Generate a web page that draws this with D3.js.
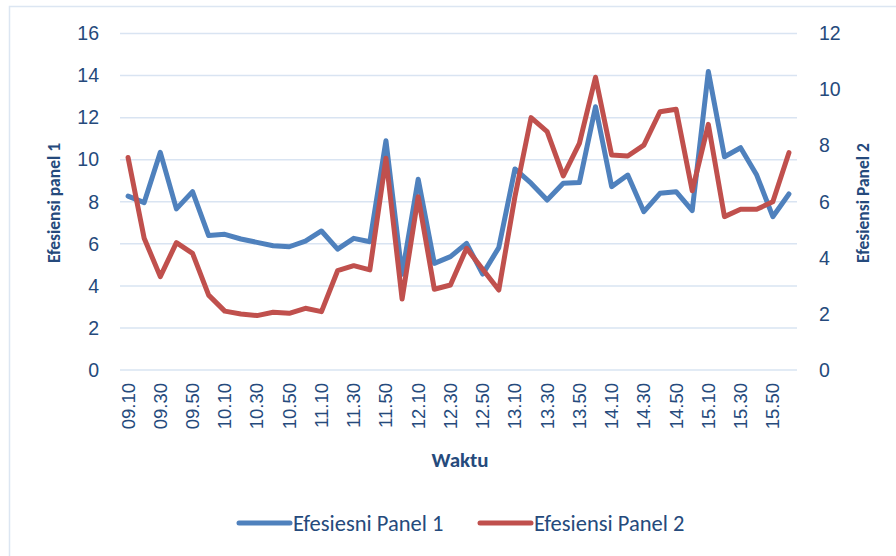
<!DOCTYPE html>
<html>
<head>
<meta charset="utf-8">
<script src="https://cdn.jsdelivr.net/npm/d3@7"></script>
<style>
  body { margin: 0; background: #ffffff; }
  svg { display: block; font-family: Carlito, Lato, "Open Sans", sans-serif; }
</style>
</head>
<body>
<div id="chart"></div>
<script>
// time stamps, one every 10 minutes
const times = [
  "09.10","09.20","09.30","09.40","09.50","10.00","10.10","10.20","10.30","10.40",
  "10.50","11.00","11.10","11.20","11.30","11.40","11.50","12.00","12.10","12.20",
  "12.30","12.40","12.50","13.00","13.10","13.20","13.30","13.40","13.50","14.00",
  "14.10","14.20","14.30","14.40","14.50","15.00","15.10","15.20","15.30","15.40",
  "15.50","16.00"
];

// left axis series
const panel1 = [
  8.27, 7.96, 10.35, 7.66, 8.48, 6.39, 6.45, 6.23, 6.07, 5.91,
  5.86, 6.13, 6.61, 5.75, 6.26, 6.10, 10.90, 4.55, 9.07, 5.07,
  5.39, 6.02, 4.56, 5.82, 9.56, 8.88, 8.08, 8.88, 8.91, 12.52,
  8.72, 9.27, 7.53, 8.40, 8.48, 7.58, 14.19, 10.14, 10.57, 9.27,
  7.29, 8.37
];

// right axis series
const panel2 = [
  7.58, 4.70, 3.33, 4.54, 4.16, 2.67, 2.10, 2.00, 1.94, 2.06,
  2.02, 2.20, 2.08, 3.54, 3.72, 3.57, 7.55, 2.53, 6.18, 2.88,
  3.03, 4.34, 3.59, 2.85, 6.18, 9.00, 8.50, 6.92, 8.08, 10.44,
  7.67, 7.63, 8.02, 9.21, 9.30, 6.39, 8.76, 5.47, 5.73, 5.73,
  6.00, 7.75
];

const leftTicks = [0, 2, 4, 6, 8, 10, 12, 14, 16];
const rightTicks = [0, 2, 4, 6, 8, 10, 12];
const seriesNames = ["Efesiesni Panel 1", "Efesiensi Panel 2"];

const W = 896, H = 556;
const margin = { top: 33.5, right: 99, bottom: 186, left: 120 };
const innerW = W - margin.left - margin.right;
const innerH = H - margin.top - margin.bottom;

const textColor = "#254a7c";
const gridColor = "#d9e4f2";
const blue = "#4f81bd";
const red = "#c0504d";

const svg = d3.select("#chart").append("svg")
  .attr("width", W)
  .attr("height", H);

// chart frame
svg.append("rect")
  .attr("x", 9.5).attr("y", 6.5)
  .attr("width", W).attr("height", H)
  .attr("fill", "#ffffff")
  .attr("stroke", "#dce6f2")
  .attr("stroke-width", 1.5);

const g = svg.append("g")
  .attr("transform", `translate(${margin.left},${margin.top})`);

const x = d3.scaleBand()
  .domain(times)
  .range([0, innerW]);

const yL = d3.scaleLinear().domain([0, 16]).range([innerH, 0]);
const yR = d3.scaleLinear().domain([0, 12]).range([innerH, 0]);

const cx = d => x(d) + x.bandwidth() / 2;

// gridlines
g.append("g")
  .selectAll("line")
  .data(leftTicks)
  .join("line")
  .attr("x1", 0).attr("x2", innerW)
  .attr("y1", d => yL(d)).attr("y2", d => yL(d))
  .attr("stroke", gridColor)
  .attr("stroke-width", 1.5);

// left axis
const leftAxis = g.append("g")
  .call(d3.axisLeft(yL).tickValues(leftTicks).tickSize(0).tickPadding(21));
leftAxis.select(".domain").remove();
leftAxis.selectAll("text")
  .attr("fill", textColor)
  .style("font-size", "19.5px");

// right axis
const rightAxis = g.append("g")
  .attr("transform", `translate(${innerW},0)`)
  .call(d3.axisRight(yR).tickValues(rightTicks).tickSize(0).tickPadding(22));
rightAxis.select(".domain").remove();
rightAxis.selectAll("text")
  .attr("fill", textColor)
  .style("font-size", "19.5px");

// bottom axis, every other label
const bottomAxis = g.append("g")
  .attr("transform", `translate(0,${innerH})`)
  .call(d3.axisBottom(x)
    .tickValues(times.filter((d, i) => i % 2 === 0))
    .tickSize(0));
bottomAxis.select(".domain").remove();
bottomAxis.selectAll("text")
  .attr("fill", textColor)
  .style("font-size", "18.5px")
  .attr("text-anchor", "end")
  .attr("dy", "0.35em")
  .attr("transform", "translate(0,13) rotate(-90)")
  .attr("x", 0).attr("y", 0);

// lines
const line1 = d3.line()
  .x((d, i) => cx(times[i]))
  .y(d => yL(d));
const line2 = d3.line()
  .x((d, i) => cx(times[i]))
  .y(d => yR(d));

g.append("path")
  .datum(panel1)
  .attr("d", line1)
  .attr("fill", "none")
  .attr("stroke", blue)
  .attr("stroke-width", 5)
  .attr("stroke-linejoin", "round")
  .attr("stroke-linecap", "round");

g.append("path")
  .datum(panel2)
  .attr("d", line2)
  .attr("fill", "none")
  .attr("stroke", red)
  .attr("stroke-width", 5)
  .attr("stroke-linejoin", "round")
  .attr("stroke-linecap", "round");

// axis titles
svg.append("text")
  .attr("transform", "translate(60,203) rotate(-90)")
  .attr("text-anchor", "middle")
  .attr("fill", textColor)
  .style("font-size", "17.5px")
  .style("font-weight", "bold")
  .text("Efesiensi panel 1");

svg.append("text")
  .attr("transform", "translate(869,203) rotate(-90)")
  .attr("text-anchor", "middle")
  .attr("fill", textColor)
  .style("font-size", "17.5px")
  .style("font-weight", "bold")
  .text("Efesiensi Panel 2");

svg.append("text")
  .attr("x", 460).attr("y", 467)
  .attr("text-anchor", "middle")
  .attr("fill", textColor)
  .style("font-size", "21px")
  .style("font-weight", "bold")
  .text("Waktu");

// legend
const legend = svg.append("g").attr("transform", "translate(0,523)");
const legendItems = legend.selectAll("g")
  .data(seriesNames)
  .join("g")
  .attr("transform", (d, i) => `translate(${[239, 480][i]},0)`);
legendItems.append("line")
  .attr("x1", 0).attr("x2", 51)
  .attr("stroke", (d, i) => [blue, red][i])
  .attr("stroke-width", 5)
  .attr("stroke-linecap", "round");
legendItems.append("text")
  .attr("x", 54).attr("dy", "0.35em")
  .attr("fill", textColor)
  .style("font-size", "22.5px")
  .text(d => d);
</script>
</body>
</html>
